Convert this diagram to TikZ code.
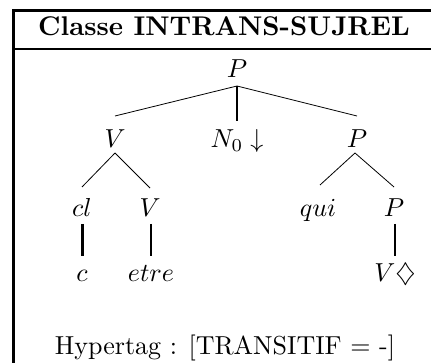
\documentclass[tikz,border=0pt]{standalone}
\begin{document}
\begin{tikzpicture}[x=1pt,y=-1pt,
  lbl/.style={font=\fontsize{10}{12}\selectfont, inner sep=0pt, anchor=base, scale=2.6, transform shape},
  thin edge/.style={line width=0.8pt},
  mid edge/.style={line width=1.7pt},
  thick edge/.style={line width=3pt},
  frame/.style={line width=3pt}]
\useasboundingbox (0,0) rectangle (431,363);
% frame
\draw[frame] (13,380) -- (13,11) -- (440,11);
\draw[line width=2.5pt] (13,49) -- (440,49);
% title
\node[lbl, scale=1.04] (title) at (224,36) {\bfseries Classe INTRANS-SUJREL};
% tree
\node[lbl] (root) at (237,78) {$P$};
\node[lbl] (v1) at (115,148) {$V$};
\node[lbl] (n0) at (237,148) {$N_0\downarrow$};
\node[lbl] (p1) at (357,148) {$P$};
\node[lbl] (cl) at (82,217) {$cl$};
\node[lbl] (v2) at (150,217) {$V$};
\node[lbl] (qui) at (318,217) {$qui$};
\node[lbl] (p2) at (394,217) {$P$};
\node[lbl] (c) at (82,282) {$c$};
\node[lbl] (etre) at (151,282) {$etre$};
\node[lbl] (vd) at (395,282) {$V\diamondsuit$};
% hypertag
\node[lbl] (hyper) at (225,354) {Hypertag : [TRANSITIF = -]};
% edges
\draw[thin edge] ([yshift=-8pt]root.base) -- ([yshift=32pt]v1.base);
\draw[thin edge] ([yshift=-8pt]root.base) -- ([yshift=32pt]p1.base);
\draw[mid edge] ([yshift=-8pt]root.base) -- ([yshift=27pt]n0.base);
\draw[thin edge] ([yshift=-5pt]v1.base) -- ([yshift=30pt]cl.base);
\draw[thin edge] ([yshift=-5pt]v1.base) -- ([yshift=29pt]v2.base);
\draw[thin edge] ([xshift=-2pt,yshift=-5pt]p1.base) -- ([xshift=2pt,yshift=32pt]qui.base);
\draw[thin edge] ([xshift=-2pt,yshift=-5pt]p1.base) -- ([yshift=30pt]p2.base);
\draw[thick edge] ([yshift=-7pt]cl.base) -- ([yshift=26pt]c.base);
\draw[mid edge] ([xshift=1pt,yshift=-7pt]v2.base) -- ([yshift=26pt]etre.base);
\draw[mid edge] ([xshift=1pt,yshift=-7pt]p2.base) -- ([yshift=26pt]vd.base);
\end{tikzpicture}
\end{document}
